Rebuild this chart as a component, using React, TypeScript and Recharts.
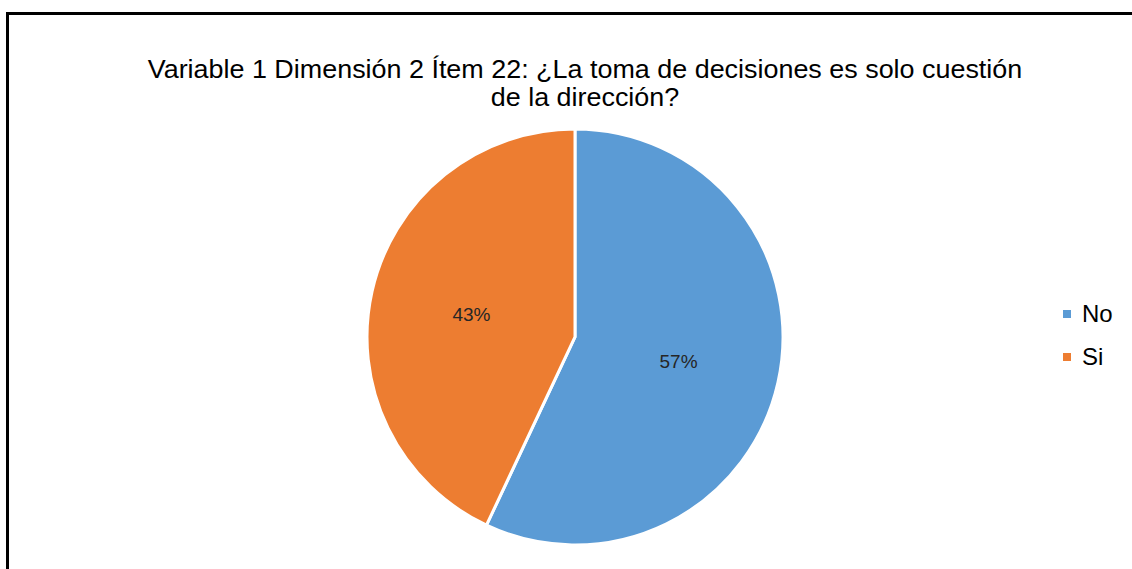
import { PieChart, Pie, Cell, Legend } from 'recharts';

const categories = ['No', 'Si'];
const values = [57, 43];
const colors = ['#5B9BD5', '#ED7D31'];

const data = categories.map((name, i) => ({ name, value: values[i] }));

const RAD = Math.PI / 180;
const FONT = "'Liberation Sans', Arial, sans-serif";

const renderLabel = (props: any) => {
  const { cx, cy, midAngle, outerRadius, percent } = props;
  const r = outerRadius * 0.51;
  const x = cx + r * Math.cos(-midAngle * RAD);
  const y = cy + r * Math.sin(-midAngle * RAD) + 1;
  return (
    <text x={x} y={y} fill="#262626" fontSize={19} textAnchor="middle" dominantBaseline="central" fontFamily={FONT}>
      {`${Math.round(percent * 100)}%`}
    </text>
  );
};

const renderLegend = () => (
  <div style={{ fontFamily: FONT, fontSize: 24, color: '#000' }}>
    {categories.map((c, i) => (
      <div key={c} style={{ display: 'flex', alignItems: 'center', height: 43 }}>
        <span style={{ width: 8, height: 8, background: colors[i], marginRight: 11, display: 'inline-block' }} />
        <span>{c}</span>
      </div>
    ))}
  </div>
);

export default function App() {
  return (
    <div style={{ position: 'absolute', left: 0, top: 0, width: 1132, height: 569, background: '#fff', overflow: 'hidden' }}>
      {/* chart frame, cut off at right and bottom */}
      <div style={{ position: 'absolute', left: 6, top: 12, width: 1140, height: 580, border: '3px solid #000', boxSizing: 'border-box' }} />
      <div style={{
        position: 'absolute', left: 0, top: 55, width: 1170, textAlign: 'center',
        fontFamily: FONT, fontSize: 26, lineHeight: '28px', color: '#000',
        transform: 'scaleX(1.035)', transformOrigin: '585px 0',
      }}>
        Variable 1 Dimensión 2 Ítem 22: ¿La toma de decisiones es solo cuestión<br />de la dirección?
      </div>
      <PieChart width={1132} height={569} margin={{ top: 0, right: 0, bottom: 0, left: 0 }}
        style={{ position: 'absolute', left: 0, top: 0 }}>
        <Pie
          data={data}
          dataKey="value"
          nameKey="name"
          cx={575}
          cy={337}
          outerRadius={208}
          startAngle={90}
          endAngle={-270}
          stroke="#fff"
          strokeWidth={3}
          label={renderLabel}
          labelLine={false}
          isAnimationActive={false}
        >
          {data.map((d, i) => (
            <Cell key={d.name} fill={colors[i]} />
          ))}
        </Pie>
        <Legend layout="vertical" verticalAlign="middle" align="right" content={renderLegend}
          wrapperStyle={{ left: 1063, top: 292, width: 69 }} />
      </PieChart>
    </div>
  );
}
